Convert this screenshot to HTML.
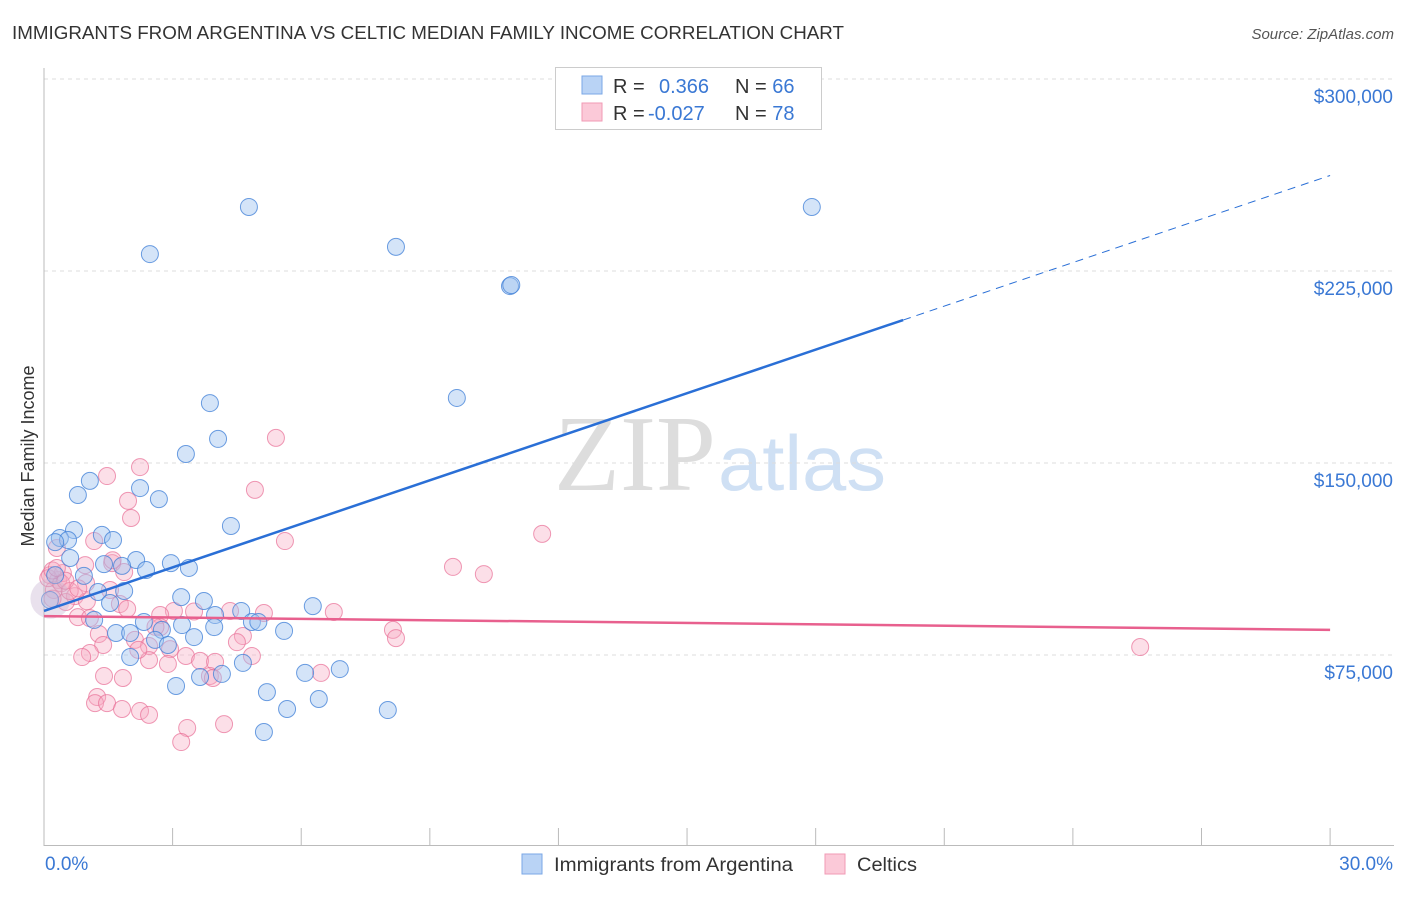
<!DOCTYPE html>
<html><head><meta charset="utf-8"><style>
body{margin:0;background:#fff;font-family:"Liberation Sans",sans-serif;}
</style></head><body>
<svg id="c" width="1406" height="892" xmlns="http://www.w3.org/2000/svg">
<text x="12" y="39" font-size="18" fill="#333" textLength="832" lengthAdjust="spacingAndGlyphs">IMMIGRANTS FROM ARGENTINA VS CELTIC MEDIAN FAMILY INCOME CORRELATION CHART</text>
<text x="1394" y="39" font-size="15" fill="#555" font-style="italic" text-anchor="end">Source: ZipAtlas.com</text>
<text transform="translate(34,456) rotate(-90)" font-size="18" fill="#333" text-anchor="middle">Median Family Income</text>
<text x="716" y="490" font-size="108" fill="#ddd" text-anchor="end" font-family="Liberation Serif,serif" textLength="162" lengthAdjust="spacingAndGlyphs">ZIP</text>
<text x="718" y="490" font-size="78" fill="#cfe0f4" textLength="168" lengthAdjust="spacingAndGlyphs">atlas</text>
<g id="grid"></g><g id="pts"></g><g id="lines"></g>
<g>
<rect x="555.5" y="67.5" width="266" height="62" fill="#fff" stroke="#ccc"/>
<rect x="582" y="76" width="20" height="18" fill="#b9d3f5" stroke="#7aa7e6"/>
<rect x="582" y="103" width="20" height="18" fill="#fbc9d8" stroke="#f09ab5"/>
<text x="613" y="93" font-size="20" fill="#333">R = <tspan x="659" fill="#3a78d4">0.366</tspan><tspan x="735" fill="#333">N = </tspan><tspan fill="#3a78d4">66</tspan></text>
<text x="613" y="120" font-size="20" fill="#333">R = <tspan x="648" fill="#3a78d4">-0.027</tspan><tspan x="735" fill="#333">N = </tspan><tspan fill="#3a78d4">78</tspan></text>
</g>
<g>
<rect x="522" y="854" width="20" height="20" fill="#b9d3f5" stroke="#7aa7e6"/>
<text x="554" y="871" font-size="19" fill="#333" textLength="239" lengthAdjust="spacingAndGlyphs">Immigrants from Argentina</text>
<rect x="825" y="854" width="20" height="20" fill="#fbc9d8" stroke="#f09ab5"/>
<text x="857" y="871" font-size="19" fill="#333" textLength="60" lengthAdjust="spacingAndGlyphs">Celtics</text>
</g>
</svg>
<script>
const yTicks=[75000,150000,225000,300000];
const yTickLabels=["$75,000","$150,000","$225,000","$300,000"];
const xLabels=["0.0%","30.0%"];
const blueX=[4.78,2.47,8.21,10.87,17.91,9.63,3.87,4.06,3.31,0.79,1.07,2.24,2.68,4.36,0.70,1.35,0.37,0.56,0.26,1.61,0.61,2.15,1.40,1.82,2.96,3.38,2.38,0.93,0.26,1.87,1.26,1.54,3.20,3.73,6.27,4.60,3.99,1.17,2.33,3.22,4.85,5.0,3.97,2.75,5.60,1.68,2.01,2.59,3.50,2.89,2.01,4.64,6.90,6.09,4.15,3.64,3.08,5.20,6.41,5.67,8.02,5.13,0.14,10.9];
const blueY=[250,231.6,234.4,219.1,250,175.4,173.4,159.4,153.5,137.5,143,140.2,135.9,125.4,123.8,121.9,120.7,119.9,119.1,119.9,112.9,112.1,110.5,109.8,110.9,109,108.2,105.9,106.2,100,99.6,95.3,97.6,96.1,94.1,92.2,90.6,88.7,87.9,86.7,87.9,87.9,85.9,84.8,84.4,83.6,83.6,80.9,82,78.9,74.2,71.9,69.5,68,67.6,66.4,62.9,60.5,57.8,53.9,53.5,44.9,96.5,219.5];
const pinkX=[5.41,2.24,1.47,4.92,1.96,2.03,11.62,5.62,1.17,0.30,9.54,10.26,0.96,1.59,0.14,0.33,0.44,0.98,0.23,1.87,1.54,0.72,0.51,1.77,1.94,3.03,4.34,5.13,6.76,2.71,0.79,1.07,2.71,8.14,1.28,4.64,8.21,2.12,2.45,1.38,2.94,1.07,3.31,4.85,0.89,2.45,3.64,3.99,2.89,1.84,1.40,3.87,6.46,3.94,25.57,1.24,1.19,1.47,1.82,2.24,2.45,3.34,4.20,3.20,0.2,0.1,0.4,0.6,0.2,1.0,3.5,2.6,0.5,1.6,0.3,0.8,2.2,4.5];
const pinkY=[159.8,148.4,144.9,139.5,135.2,128.5,122.3,119.5,119.5,116.8,109.4,106.6,110.1,110.9,106.2,104.3,107,103.1,100.4,107.4,100.4,98,95.7,94.9,93,92.2,92.2,91.4,91.8,90.6,89.8,89.4,85.9,84.8,83.2,82.4,81.6,80.9,78.5,78.9,77.3,75.8,74.6,74.6,74.2,73,72.7,72.3,71.5,66,66.8,66.8,68,66,78.1,58.6,56.2,56.2,53.9,53.1,51.6,46.5,48,41,97,105,103,100,108,96,92,86,104,112,109,101,77,80];
const blueTrend=[92.2,262.3], pinkTrend=[90.2,84.8];
const X=v=>44+v*42.87, Y=k=>847-k*1000/390.6;
const NS="http://www.w3.org/2000/svg";
function mk(p,t,a){const e=document.createElementNS(NS,t);for(const k in a)e.setAttribute(k,a[k]);p.appendChild(e);return e;}
const svg=document.getElementById('c'),grid=document.getElementById('grid'),pts=document.getElementById('pts'),lines=document.getElementById('lines');
yTicks.forEach((t,i)=>{const y=Y(t/1000);
const l=mk(grid,'line',{x1:44,x2:1394,y1:y,y2:y,stroke:'#ddd','stroke-dasharray':'4,4'});


const tx=mk(grid,'text',{x:1393,y:y+24,'font-size':19,fill:'#3a78d4','text-anchor':'end'});tx.textContent=yTickLabels[i];

});
mk(grid,'line',{x1:44,x2:44,y1:68,y2:846,stroke:'#bbb'});
mk(grid,'line',{x1:44,x2:1394,y1:845.5,y2:845.5,stroke:'#bbb'});
for(let i=0;i<=10;i++){const x=X(i*3);const t=mk(grid,'line',{x1:x,x2:x,y1:828,y2:846,stroke:'#bbb'});

}
[[0,69,'start'],[30,1393,'end']].forEach((d,i)=>{const t=mk(grid,'text',{x:i?1393:45,y:870,'font-size':19,fill:'#3a78d4','text-anchor':d[2]});t.textContent=xLabels[i];

});
pinkX.forEach((v,i)=>{const c=mk(pts,'circle',{cx:X(v),cy:Y(pinkY[i]),r:8.5,fill:'rgba(248,170,195,0.38)',stroke:'rgba(232,110,150,0.7)','stroke-width':1});

});
blueX.forEach((v,i)=>{const c=mk(pts,'circle',{cx:X(v),cy:Y(blueY[i]),r:8.5,fill:'rgba(160,195,240,0.45)',stroke:'rgba(60,125,215,0.75)','stroke-width':1});

});
const big=mk(pts,'circle',{cx:X(0.15),cy:Y(97),r:20,fill:'rgba(200,180,210,0.4)',stroke:'none'});


const bAt=x=>blueTrend[0]+(blueTrend[1]-blueTrend[0])*x/30;
const b1=mk(lines,'line',{x1:X(0),y1:Y(bAt(0)),x2:X(20.04),y2:Y(bAt(20.04)),stroke:'#2a6fd6','stroke-width':2.5});


const b2=mk(lines,'line',{x1:X(20.04),y1:Y(bAt(20.04)),x2:X(30),y2:Y(bAt(30)),stroke:'#2a6fd6','stroke-width':1,'stroke-dasharray':'8,6'});


const p1=mk(lines,'line',{x1:X(0),y1:Y(pinkTrend[0]),x2:X(30),y2:Y(pinkTrend[1]),stroke:'#e8608e','stroke-width':2.5});


</script>
</body></html>
